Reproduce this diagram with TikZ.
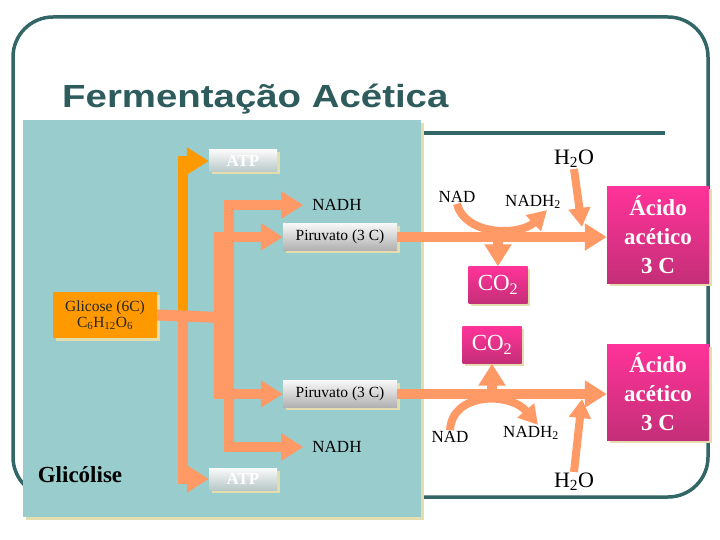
\documentclass[tikz,border=0pt]{standalone}
\usepackage{fontspec}
\usepackage{graphicx}
\setmainfont{Liberation Serif}
\newfontfamily\titlefont{Liberation Sans}
\usetikzlibrary{arrows.meta,shadows,positioning}
\definecolor{framegreen}{HTML}{336666}
\definecolor{panelteal}{HTML}{99CCCC}
\definecolor{salmon}{HTML}{FF9966}
\definecolor{amber}{HTML}{FF9900}
\definecolor{magtop}{HTML}{FF3399}
\definecolor{magbot}{HTML}{C42F78}
\definecolor{atpbot}{HTML}{B8C8C8}
\definecolor{shadowtan}{HTML}{E4DDAE}

\begin{document}
\begin{tikzpicture}[x=1pt,y=-1pt,
  flow/.style={draw=salmon,line width=10pt,-{Triangle[width=26pt,length=22pt]}},
  thin flow/.style={draw=salmon,line width=8pt,-{Triangle[width=21pt,length=19pt]}},
  tagbox/.style={inner sep=0pt,drop shadow={fill=shadowtan,opacity=1,shadow xshift=2.5pt,shadow yshift=-2.5pt}},
  pir box/.style={tagbox,top color=gray!6,bottom color=gray!62,minimum width=114pt,minimum height=27pt,font=\fontsize{15.5}{17}\selectfont},
  atp box/.style={tagbox,top color=white!96!gray,bottom color=atpbot,minimum width=68pt,minimum height=22pt,text=white,font=\fontsize{17}{18}\selectfont\bfseries},
  mag box/.style={tagbox,top color=magtop,bottom color=magbot,text=white,align=center},
  lbl/.style={inner sep=1pt,font=\fontsize{17}{19}\selectfont}]

 \useasboundingbox (0,0) rectangle (720,540);
 \draw[framegreen,line width=3.5pt,rounded corners=40pt] (13,17) rectangle (708,497);
 \draw[framegreen,line width=4pt] (421,133) -- (665,133);
 \fill[panelteal,drop shadow={fill=shadowtan,opacity=1,shadow xshift=3pt,shadow yshift=-3pt}] (23,120) rectangle (421,517);

 \node[anchor=base west,inner sep=0pt,text=framegreen!90!black,font=\titlefont\bfseries\fontsize{32}{36}\selectfont] (title) at (62,108) {\scalebox{1.2}[1]{Fermentação Acética}};

 \node[tagbox,fill=amber,minimum width=104pt,minimum height=46pt,align=center,text=black!85,font=\fontsize{15.5}{16}\selectfont] (glc) at (105,315) {Glicose (6C)\\C\textsubscript{6}H\textsubscript{12}O\textsubscript{6}};
 \node[font=\fontsize{23}{26}\selectfont\bfseries] (glic) at (80,475) {Glicólise};
 \node[atp box] (atp1) at (243,161) {ATP};
 \node[atp box] (atp2) at (243,479) {ATP};
 \node[lbl] (nadhA) at (337,205) {NADH};
 \node[lbl] (nadhB) at (337,447) {NADH};
 \node[pir box] (pir1) at (340,237) {Piruvato (3 C)};
 \node[pir box] (pir2) at (340,394) {Piruvato (3 C)};

 \node[lbl] (nad1) at (457,197) {NAD};
 \node[lbl] (nadh21) at (533,202) {NADH\textsubscript{2}};
 \node[lbl,font=\fontsize{22}{24}\selectfont] (h2o1) at (574,159) {H\textsubscript{2}O};
 \node[mag box,minimum width=59pt,minimum height=37pt,font=\fontsize{23}{25}\selectfont] (co21) at (498,285) {CO\textsubscript{2}};
 \node[mag box,minimum width=102pt,minimum height=96pt,font=\fontsize{23}{29}\selectfont\bfseries] (acid1) at (658,235) {Ácido\\acético\\3 C};

 \node[lbl] (nad2) at (450,437) {NAD};
 \node[lbl] (nadh22) at (531,433) {NADH\textsubscript{2}};
 \node[lbl,font=\fontsize{22}{24}\selectfont] (h2o2) at (574,482) {H\textsubscript{2}O};
 \node[mag box,minimum width=59pt,minimum height=37pt,font=\fontsize{23}{25}\selectfont] (co22) at (492,345) {CO\textsubscript{2}};
 \node[mag box,minimum width=102pt,minimum height=96pt,font=\fontsize{23}{29}\selectfont\bfseries] (acid2) at (658,392) {Ácido\\acético\\3 C};

 \coordinate (fork1) at (183,318);
 \coordinate (fork2) at (219,318);
 \coordinate (fork3) at (229,318);
 \coordinate (wat1) at (582,227);
 \coordinate (wat2) at (582,399);

 \draw[flow] (fork1) |- (atp2.west);
 \draw[flow] (fork2) |- (pir2.west);
 \draw[flow] (fork3) |- ([xshift=-8pt]nadhB.west);
 \draw[flow,draw=amber] (fork1) |- (atp1.west);
 \draw[flow] (fork2) |- (pir1.west);
 \draw[flow] (fork3) |- ([xshift=-8pt]nadhA.west);
 \draw[salmon,line width=11pt] (glc.east) -- ([xshift=4pt]fork3);

 \draw[flow] (pir1.east) -- (pir1.east -| acid1.west);
 \draw[flow] (co21.north |- pir1.east) -- (co21.north);
 \draw[thin flow] (nad1.south) .. controls (465,236) and (520,236) .. ([xshift=14pt]nadh21.south);
 \draw[thin flow] (h2o1.south) -- (wat1);

 \draw[flow] (pir2.east) -- (pir2.east -| acid2.west);
 \draw[flow] (co22.south |- pir2.east) -- (co22.south);
 \draw[thin flow] (nad2.north) .. controls (452,392) and (510,392) .. ([xshift=7pt]nadh22.north);
 \draw[thin flow] (h2o2.north) -- (wat2);

\end{tikzpicture}
\end{document}
